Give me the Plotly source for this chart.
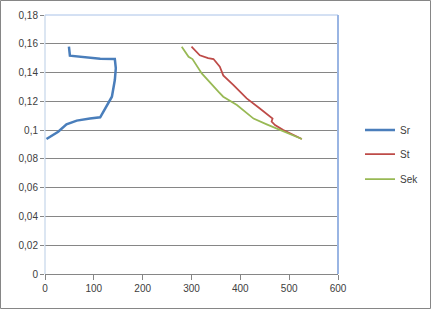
import plotly.graph_objects as go

sr_x = [3, 27, 44, 65, 92, 113, 137, 143, 145, 143, 113, 78, 51, 49]
sr_y = [0.0938, 0.0989, 0.104, 0.1066, 0.108, 0.1089, 0.1232, 0.1348, 0.143, 0.1494, 0.1496, 0.1506, 0.1517, 0.158]

st_x = [300, 317, 334, 345, 358, 365, 386, 413, 440, 461, 466, 464, 471, 488, 508, 526]
st_y = [0.158, 0.152, 0.150, 0.1494, 0.144, 0.138, 0.1313, 0.122, 0.115, 0.1093, 0.108, 0.106, 0.1035, 0.100, 0.0966, 0.0938]

sek_x = [280, 294, 302, 317, 321, 355, 365, 393, 427, 454, 481, 502, 526]
sek_y = [0.158, 0.151, 0.1494, 0.1418, 0.1394, 0.1267, 0.1232, 0.1174, 0.108, 0.104, 0.100, 0.0973, 0.0938]

y_ticks = [0, 0.02, 0.04, 0.06, 0.08, 0.1, 0.12, 0.14, 0.16, 0.18]
y_labels = ["0", "0,02", "0,04", "0,06", "0,08", "0,1", "0,12", "0,14", "0,16", "0,18"]
x_ticks = [0, 100, 200, 300, 400, 500, 600]

W, H = 431, 309
ML, MR, MT, MB = 45, 93, 15, 35
PW, PH = W - ML - MR, H - MT - MB

font = dict(family="Liberation Sans, Arial, sans-serif", size=10, color="#404040")

fig = go.Figure()
fig.add_trace(go.Scatter(x=sr_x, y=sr_y, mode="lines", name="Sr",
                         line=dict(color="#4a7ebb", width=2.5), legend="legend"))
fig.add_trace(go.Scatter(x=st_x, y=st_y, mode="lines", name="St",
                         line=dict(color="#be4b48", width=1.75), legend="legend2"))
fig.add_trace(go.Scatter(x=sek_x, y=sek_y, mode="lines", name="Sek",
                         line=dict(color="#98b954", width=1.75), legend="legend3"))

def leg(ypx):
    return dict(x=(360 - ML) / PW, y=(H - MB - ypx) / PH, xanchor="left", yanchor="middle",
                bgcolor="rgba(0,0,0,0)", font=font, itemwidth=30)

fig.update_layout(
    width=W, height=H,
    margin=dict(l=ML, r=MR, t=MT, b=MB, autoexpand=False),
    paper_bgcolor="white", plot_bgcolor="white",
    font=font,
    showlegend=True,
    legend=leg(130), legend2=leg(154), legend3=leg(179),
    xaxis=dict(range=[0, 600], tickvals=x_ticks, showgrid=False, zeroline=False,
               showline=True, linecolor="#868686", linewidth=1,
               ticks="outside", ticklen=5, tickcolor="#868686", tickfont=font),
    yaxis=dict(range=[0, 0.18], tickvals=y_ticks, ticktext=y_labels,
               showgrid=True, gridcolor="#868686", gridwidth=1, zeroline=False,
               showline=False, ticks="outside", ticklen=4, tickcolor="#868686",
               tickfont=font),
    shapes=[
        dict(type="line", xref="paper", yref="paper", x0=0, x1=1, y0=1, y1=1,
             line=dict(color="#a9c2e8", width=1)),
        dict(type="line", xref="paper", yref="paper", x0=0, x1=0, y0=0, y1=1,
             line=dict(color="#b9cde5", width=1)),
        dict(type="line", xref="paper", yref="paper", x0=1, x1=1, y0=0, y1=1,
             line=dict(color="#9ab5e3", width=2)),
        dict(type="rect", xref="paper", yref="paper",
             x0=-(ML - 0.5) / PW, x1=(W - ML - 0.5) / PW,
             y0=-(MB - 0.5) / PH, y1=(H - MB - 0.5) / PH,
             line=dict(color="#868686", width=1)),
    ],
)

fig.write_html("out.html")
